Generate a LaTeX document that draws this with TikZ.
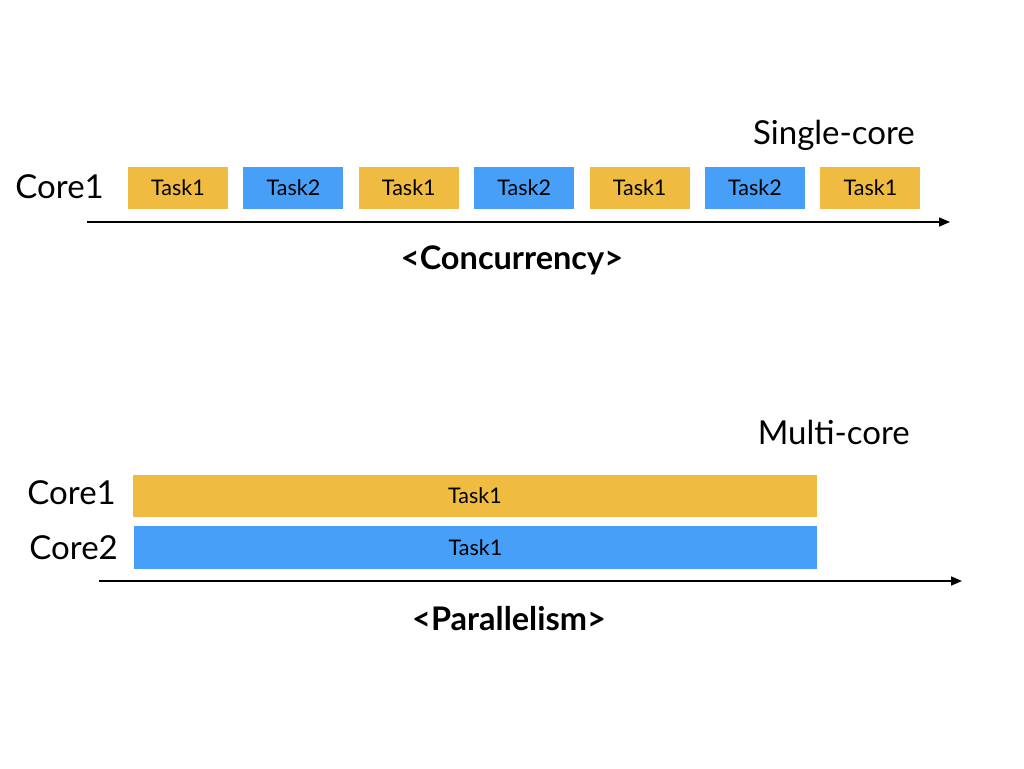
\documentclass[tikz,border=0pt]{standalone}
\usepackage{fontspec}
\setmainfont{Lato}
\usetikzlibrary{arrows.meta}
\definecolor{taskyellow}{HTML}{EFBB40}
\definecolor{taskblue}{HTML}{479FF8}
\begin{document}
\begin{tikzpicture}[x=1pt,y=-1pt,
  taskbox/.style={draw=none,inner sep=0pt,minimum height=42pt,font=\fontsize{21.5}{23}\selectfont},
  ybox/.style={taskbox,fill=taskyellow},
  bbox/.style={taskbox,fill=taskblue},
  lbl/.style={inner sep=0pt,font=\fontsize{33}{36}\selectfont},
  ttl/.style={inner sep=0pt,font=\fontsize{32.5}{34}\selectfont\bfseries},
  axis/.style={line width=1.6pt,-{Triangle[length=11pt,width=9pt]}}]
\useasboundingbox (0,0) rectangle (1024,768);
% single-core
\node[lbl,anchor=east] (c1) at (104,187) {Core1};
\node[lbl,anchor=base east] (sc) at (915,144) {Single-core};
\foreach \i/\c/\t in {0/ybox/Task1,1/bbox/Task2,2/ybox/Task1,3/bbox/Task2,4/ybox/Task1,5/bbox/Task2,6/ybox/Task1}{
  \node[\c,minimum width=100pt] (t\i) at ({178+115.4*\i},188) {\t};
}
\coordinate (a1s) at (87,222);
\coordinate (a1e) at (950,222);
\draw[axis] (a1s) -- (a1e);
\node[ttl] (conc) at (512,260) {<Concurrency>};
% multi-core
\node[lbl,anchor=base east] (mc) at (910,444) {Multi-core};
\node[lbl,anchor=east] (m1) at (116,493) {Core1};
\node[lbl,anchor=east] (m2) at (118,548) {Core2};
\node[ybox,minimum width=684pt] (p1) at (475,496) {Task1};
\node[bbox,minimum width=683pt,minimum height=43pt] (p2) at (475.5,547.5) {Task1};
\coordinate (a2s) at (99,581);
\coordinate (a2e) at (962,581);
\draw[axis] (a2s) -- (a2e);
\node[ttl] (par) at (509,619) {<Parallelism>};
\end{tikzpicture}
\end{document}
